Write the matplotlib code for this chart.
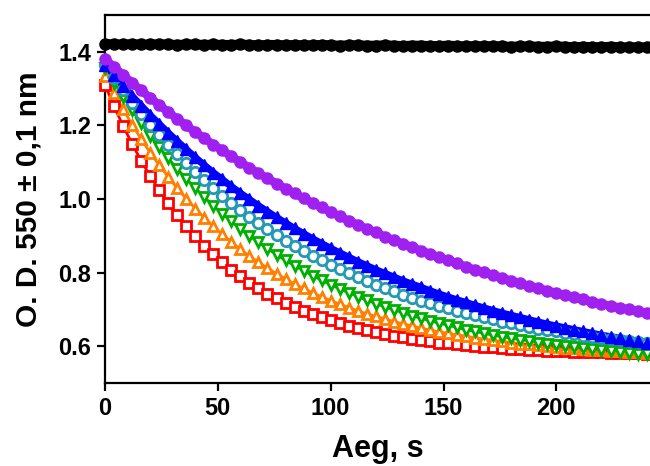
import numpy as np
import matplotlib
matplotlib.use("Agg")
import matplotlib.pyplot as plt
from matplotlib.ticker import FormatStrFormatter

plt.rcParams["font.family"] = ["Liberation Sans", "DejaVu Sans"]
plt.rcParams["font.weight"] = "bold"

# time points, s
t = np.arange(0, 241, 4)

od_black = [1.421, 1.421, 1.420, 1.421, 1.420, 1.420, 1.421, 1.420, 1.419, 1.420,
            1.420, 1.419, 1.420, 1.419, 1.419, 1.420, 1.419, 1.418, 1.419, 1.419,
            1.418, 1.419, 1.418, 1.418, 1.419, 1.418, 1.417, 1.418, 1.418, 1.417,
            1.417, 1.418, 1.417, 1.416, 1.417, 1.417, 1.416, 1.416, 1.417, 1.416,
            1.415, 1.416, 1.415, 1.416, 1.415, 1.414, 1.415, 1.415, 1.414, 1.414,
            1.415, 1.414, 1.413, 1.414, 1.413, 1.413, 1.414, 1.413, 1.412, 1.413,
            1.412]
od_purple = [1.381, 1.359, 1.337, 1.316, 1.295, 1.275, 1.256, 1.236, 1.218, 1.200,
             1.182, 1.165, 1.148, 1.132, 1.116, 1.100, 1.085, 1.070, 1.056, 1.042,
             1.028, 1.015, 1.002, 0.989, 0.977, 0.965, 0.953, 0.941, 0.930, 0.919,
             0.909, 0.898, 0.888, 0.879, 0.869, 0.860, 0.851, 0.842, 0.833, 0.825,
             0.816, 0.808, 0.801, 0.793, 0.786, 0.778, 0.771, 0.764, 0.758, 0.751,
             0.745, 0.739, 0.733, 0.727, 0.721, 0.715, 0.710, 0.705, 0.700, 0.695,
             0.690]
od_blue = [1.365, 1.336, 1.307, 1.280, 1.254, 1.228, 1.204, 1.180, 1.157, 1.135,
           1.113, 1.092, 1.072, 1.053, 1.034, 1.016, 0.999, 0.982, 0.966, 0.950,
           0.935, 0.920, 0.906, 0.892, 0.879, 0.866, 0.854, 0.842, 0.830, 0.819,
           0.808, 0.798, 0.788, 0.778, 0.769, 0.760, 0.751, 0.742, 0.734, 0.726,
           0.719, 0.711, 0.704, 0.697, 0.690, 0.684, 0.678, 0.672, 0.666, 0.660,
           0.655, 0.650, 0.645, 0.640, 0.635, 0.630, 0.626, 0.622, 0.618, 0.614,
           0.610]
od_teal = [1.363, 1.328, 1.295, 1.262, 1.232, 1.202, 1.174, 1.148, 1.122, 1.097,
           1.074, 1.051, 1.030, 1.009, 0.989, 0.970, 0.952, 0.935, 0.918, 0.902,
           0.887, 0.873, 0.859, 0.846, 0.833, 0.821, 0.809, 0.798, 0.787, 0.777,
           0.767, 0.758, 0.749, 0.740, 0.732, 0.724, 0.717, 0.710, 0.703, 0.696,
           0.690, 0.684, 0.678, 0.673, 0.667, 0.662, 0.657, 0.653, 0.648, 0.644,
           0.640, 0.636, 0.633, 0.629, 0.626, 0.622, 0.619, 0.616, 0.613, 0.611,
           0.608]
od_green = [1.357, 1.316, 1.278, 1.241, 1.206, 1.172, 1.141, 1.111, 1.082, 1.055,
            1.030, 1.005, 0.982, 0.960, 0.939, 0.919, 0.900, 0.882, 0.865, 0.849,
            0.833, 0.819, 0.805, 0.792, 0.779, 0.767, 0.756, 0.745, 0.735, 0.725,
            0.716, 0.707, 0.699, 0.691, 0.683, 0.676, 0.669, 0.663, 0.657, 0.651,
            0.645, 0.640, 0.635, 0.630, 0.626, 0.622, 0.618, 0.614, 0.610, 0.607,
            0.603, 0.600, 0.597, 0.594, 0.592, 0.589, 0.587, 0.584, 0.582, 0.580,
            0.578]
od_orange = [1.335, 1.288, 1.244, 1.202, 1.163, 1.126, 1.092, 1.060, 1.029, 1.001,
             0.974, 0.949, 0.926, 0.904, 0.883, 0.863, 0.845, 0.828, 0.812, 0.797,
             0.783, 0.769, 0.757, 0.745, 0.734, 0.724, 0.714, 0.705, 0.696, 0.688,
             0.681, 0.674, 0.667, 0.661, 0.655, 0.649, 0.644, 0.639, 0.635, 0.631,
             0.627, 0.623, 0.619, 0.616, 0.613, 0.610, 0.607, 0.605, 0.602, 0.600,
             0.598, 0.596, 0.594, 0.592, 0.590, 0.589, 0.587, 0.586, 0.585, 0.584,
             0.582]
od_red = [1.310, 1.252, 1.199, 1.150, 1.104, 1.063, 1.024, 0.989, 0.956, 0.926,
          0.899, 0.873, 0.850, 0.828, 0.808, 0.790, 0.773, 0.757, 0.743, 0.730,
          0.718, 0.706, 0.696, 0.687, 0.678, 0.670, 0.662, 0.655, 0.649, 0.643,
          0.638, 0.633, 0.628, 0.624, 0.620, 0.617, 0.613, 0.610, 0.608, 0.605,
          0.603, 0.600, 0.598, 0.597, 0.595, 0.593, 0.592, 0.591, 0.589, 0.588,
          0.587, 0.586, 0.585, 0.585, 0.584, 0.583, 0.582, 0.582, 0.581, 0.581,
          0.580]

fig = plt.figure(figsize=(6.5, 4.66), dpi=100)
ax = fig.add_axes([105 / 650, 83 / 466, 545 / 650, 368 / 466])

# (values, colour, marker, filled, line width)
series = [
    (od_red, "#ff0000", "s", False, 2.0),
    (od_orange, "#ff8000", "^", False, 2.0),
    (od_green, "#00b000", "v", False, 2.0),
    (od_teal, "#2399b3", "o", False, 2.0),
    (od_blue, "#0000ff", "^", True, 5.0),
    (od_purple, "#a020f0", "o", True, 6.0),
    (od_black, "#000000", "o", True, 7.0),
]

for vals, col, mk, filled, lw in series:
    ax.plot(t, vals, color=col, lw=lw, zorder=2, clip_on=False,
            solid_capstyle="round")
    if filled:
        ax.plot(t, vals, ls="none", marker=mk, ms=8, color=col,
                mec=col, zorder=3, clip_on=False)
    else:
        ax.plot(t, vals, ls="none", marker=mk, ms=7.5, mfc="white",
                mec=col, mew=2.0, zorder=3, clip_on=False)

ax.set_xlim(0, 241.5)
ax.set_ylim(0.5, 1.5)
ax.set_xticks([0, 50, 100, 150, 200])
ax.set_yticks([0.6, 0.8, 1.0, 1.2, 1.4])
ax.yaxis.set_major_formatter(FormatStrFormatter("%.1f"))

for s in ["left", "bottom", "top"]:
    ax.spines[s].set_linewidth(1.6)
ax.spines["right"].set_visible(False)
ax.tick_params(direction="out", length=6, width=1.6, labelsize=17, pad=4)
for lab in ax.get_xticklabels() + ax.get_yticklabels():
    lab.set_fontweight("bold")

ax.set_xlabel("Aeg, s", fontsize=22, fontweight="bold", labelpad=10)
ax.set_ylabel("O. D. 550 ± 0,1 nm", fontsize=21.5, fontweight="bold", labelpad=11)

fig.savefig("out.png", dpi=100)
